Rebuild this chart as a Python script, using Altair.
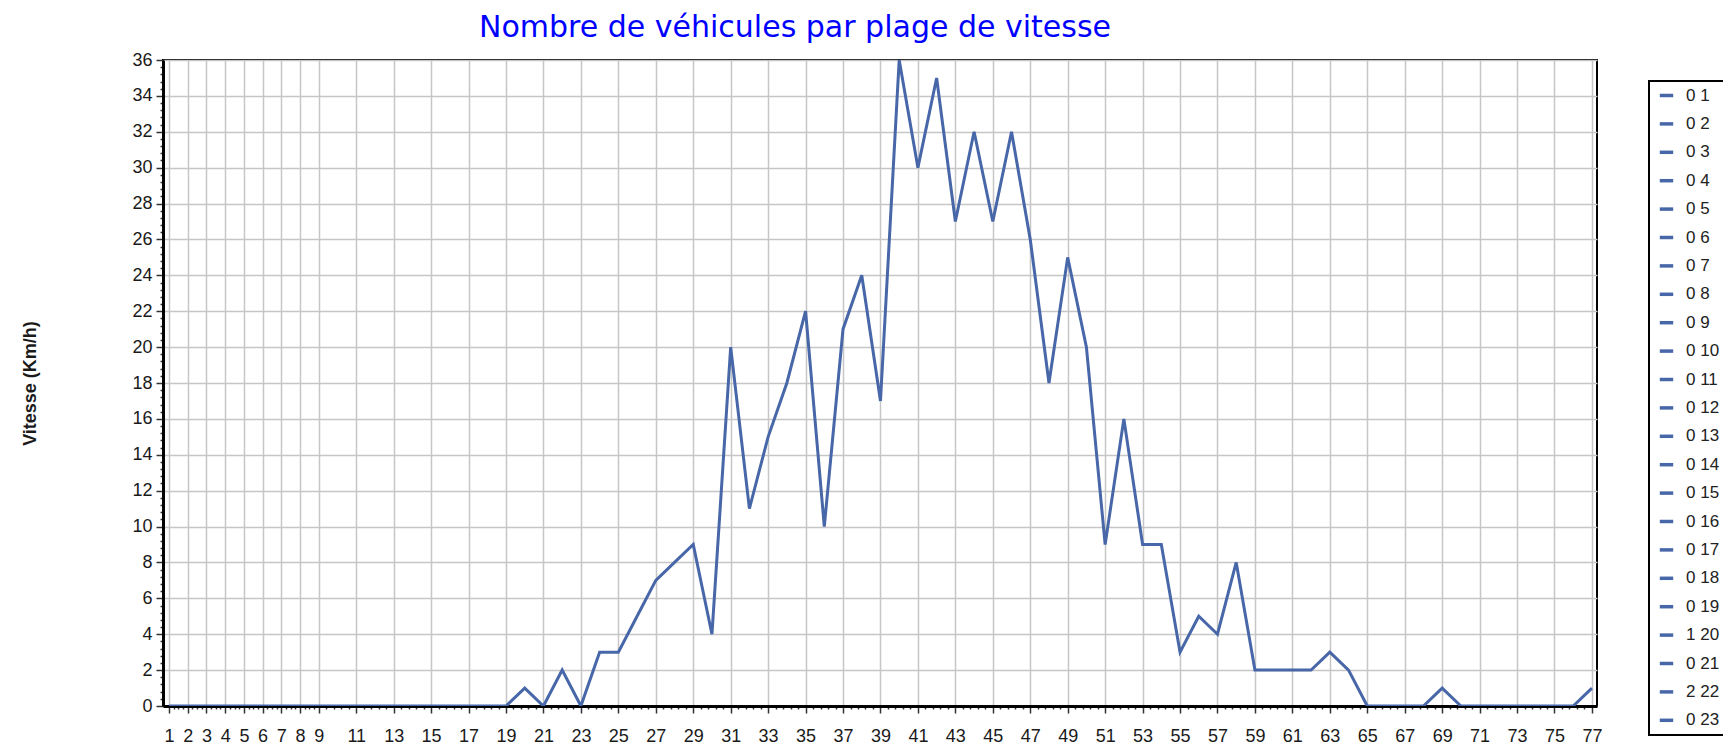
import altair as alt
import pandas as pd

# ---- data ----
speeds = list(range(1, 78))
counts = ([0] * 19 +
          [1, 0, 2, 0, 3, 3, 5, 7, 8, 9,
           4, 20, 11, 15, 18, 22, 10, 21, 24, 17,
           36, 30, 35, 27, 32, 27, 32, 26, 18, 25,
           20, 9, 16, 9, 9, 3, 5, 4, 8, 2,
           2, 2, 2, 3, 2, 0, 0, 0, 0, 1,
           0, 0, 0, 0, 0, 0, 0, 1])

legend_hours = list(range(1, 24))
legend_counts = [0] * 19 + [1, 0, 2, 0]
legend_labels = [f"{c} {h}" for c, h in zip(legend_counts, legend_hours)]

x_major = list(range(1, 10)) + list(range(11, 78, 2))
x_minor = [round(1 + 0.25 * i, 2) for i in range(1, 33) if i % 4 != 0] + \
          [round(9 + 0.4 * i, 1) for i in range(1, 171) if i % 5 != 0]
y_major = list(range(0, 37, 2))
y_minor = [round(0.4 * i, 1) for i in range(1, 90) if i % 5 != 0]

LINE_COLOR = "#4767a8"
FONT = "Liberation Sans"

line_df = pd.DataFrame({"speed": speeds, "count": counts})
legend_df = pd.DataFrame({"label": legend_labels})

x_test = f"indexof({x_major}, datum.value) >= 0"
y_test = f"indexof({y_major}, datum.value) >= 0"

x_axis = alt.Axis(
    values=x_major + x_minor,
    tickCount=1000,
    tickMinStep=0.05,
    format="d",
    labelExpr=f"{x_test} ? datum.label : ''",
    tickSize={"condition": {"test": x_test, "value": 7}, "value": 3},
    gridOpacity={"condition": {"test": x_test, "value": 1}, "value": 0},
    labelOverlap=False,
    labelFlush=False,
    labelBound=False,
    labelPadding=14,
    title=None,
)
y_axis = alt.Axis(
    values=y_major + y_minor,
    tickCount=1000,
    tickMinStep=0.05,
    format="d",
    labelExpr=f"{y_test} ? datum.label : ''",
    tickSize={"condition": {"test": y_test, "value": 7}, "value": 3},
    gridOpacity={"condition": {"test": y_test, "value": 1}, "value": 0},
    labelOverlap=False,
    labelFlush=False,
    labelPadding=4,
    title="Vitesse (Km/h)",
    titleFontWeight="bold",
    titleFontSize=18,
    titleAngle=270,
    titleAlign="center",
    titleBaseline="middle",
    titleX=-133,
    titleY=323,
)

line = alt.Chart(line_df).mark_line(color=LINE_COLOR, strokeWidth=3, clip=True).encode(
    x=alt.X("speed:Q", scale=alt.Scale(domain=[0.68, 77.27], nice=False, zero=False), axis=x_axis),
    y=alt.Y("count:Q", scale=alt.Scale(domain=[0, 36], nice=False), axis=y_axis),
)

legend_layer = alt.Chart(legend_df).mark_point(size=0, filled=False, opacity=1).encode(
    color=alt.Color(
        "label:N",
        sort=None,
        scale=alt.Scale(domain=legend_labels, range=[LINE_COLOR] * len(legend_labels)),
        legend=alt.Legend(
            orient="none",
            legendX=1486,
            legendY=21,
            title=None,
            symbolType="stroke",
            symbolSize=180,
            symbolStrokeWidth=3.5,
            symbolOffset=3,
            labelFontSize=17,
            labelFont=FONT,
            labelColor="#222222",
            labelOffset=11,
            rowPadding=10.4,
            padding=6,
            fillColor="white",
            strokeColor="black",
        ),
    )
)

chart = alt.layer(line, legend_layer).properties(
    width=1434,
    height=646,
    title=alt.TitleParams(
        "Nombre de véhicules par plage de vitesse",
        font="DejaVu Sans",
        fontSize=30,
        fontWeight="normal",
        color="#0000ff",
        anchor="middle",
        frame="group",
        dx=-85,
        offset=-16,
        baseline="alphabetic",
    ),
    autosize=alt.AutoSizeParams(type="none"),
    padding={"left": 155, "top": 52, "right": 126, "bottom": 41},
).configure_view(
    stroke="black", strokeWidth=2
).configure_axis(
    domainColor="black",
    domainWidth=3,
    tickColor="#333333",
    tickWidth=1.5,
    gridColor="#c6c6c6",
    gridWidth=1.5,
    labelFont=FONT,
    labelFontSize=18,
    labelColor="#1a1a1a",
    titleFont=FONT,
    titleColor="#1a1a1a",
).configure_legend(
    strokeWidth=2,
)

chart.save("out.html", embed_options={"renderer": "svg", "actions": False})
